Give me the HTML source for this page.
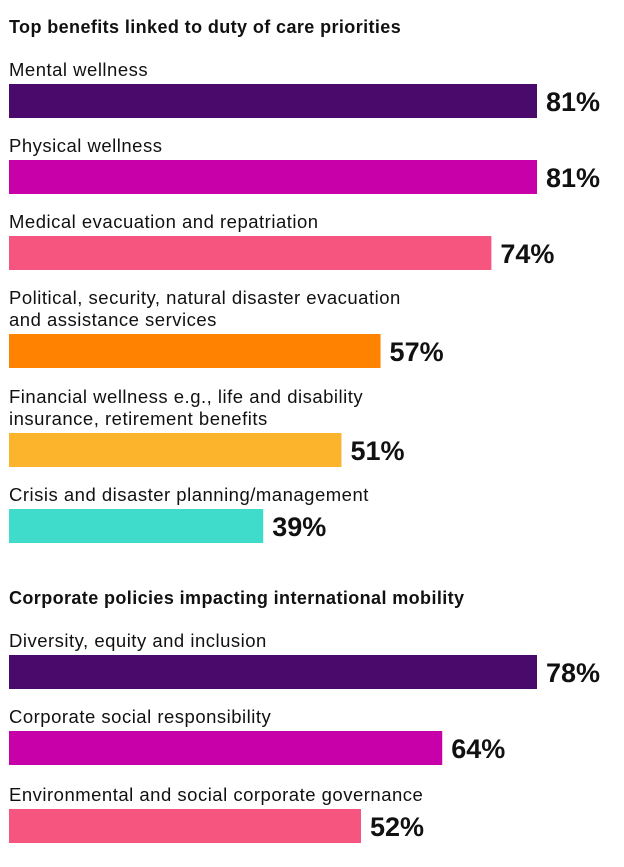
<!DOCTYPE html>
<html><head><meta charset="utf-8"><style>
body{margin:0;background:#fff;font-family:"Liberation Sans",sans-serif;}
svg text{font-family:"Liberation Sans",sans-serif;fill:#111;}
</style></head><body>
<svg width="624" height="862">
<g id="g"></g>
</svg>
<script>
const cats1=[["Mental wellness"],["Physical wellness"],["Medical evacuation and repatriation"],["Political, security, natural disaster evacuation","and assistance services"],["Financial wellness e.g., life and disability","insurance, retirement benefits"],["Crisis and disaster planning/management"]];
const vals1=[81,81,74,57,51,39];
const cats2=[["Diversity, equity and inclusion"],["Corporate social responsibility"],["Environmental and social corporate governance"]];
const vals2=[78,64,52];
const colors1=["#4a0a6b","#c800a9","#f5557e","#ff8200","#fbb42c","#3fdccb"];
const colors2=["#4a0a6b","#c800a9","#f5557e"];
const barTops1=[84,160,236,334,433,509];
const barTops2=[655,731,809];
const ns="http://www.w3.org/2000/svg";
const g=document.getElementById('g');
function mk(t,a){const e=document.createElementNS(ns,t);for(const k in a)e.setAttribute(k,a[k]);g.appendChild(e);return e;}
function title(txt,y,name){const t=mk('text',{x:9,y:y,'font-size':18,'font-weight':'bold','letter-spacing':0.4});t.textContent=txt;

}
title("Top benefits linked to duty of care priorities",33,'section-1-title');
title("Corporate policies impacting international mobility",604,'section-2-title');
function section(cats,vals,colors,tops,prefix){
 const max=Math.max(...vals);const x=v=>528*v/max;
 vals.forEach((v,i)=>{
  const top=tops[i];
  cats[i].forEach((line,j)=>{
   const t=mk('text',{x:9,y:top-8-(cats[i].length-1-j)*22,'font-size':18.5,'letter-spacing':0.5});
   t.textContent=line;
   
   
  });
  const r=mk('rect',{x:9,y:top,width:x(v),height:34,fill:colors[i]});
  
  
  const vt=mk('text',{x:9+x(v)+9,y:top+27,'font-size':27,'font-weight':'bold'});
  vt.textContent=v+'%';
  
  
 });
}
section(cats1,vals1,colors1,barTops1,'benefit');
section(cats2,vals2,colors2,barTops2,'policy');
</script>
</body></html>
